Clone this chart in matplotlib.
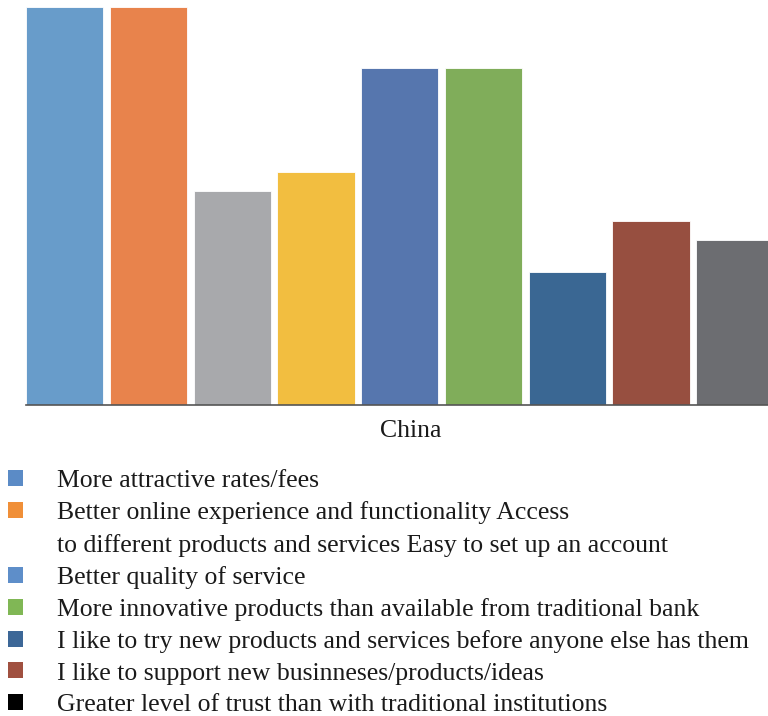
import matplotlib
matplotlib.use("Agg")
import matplotlib.pyplot as plt
from matplotlib.patches import Patch

# survey responses, one bar per reason
values = [40.0, 40.0, 21.5, 23.4, 33.9, 33.9, 13.4, 18.5, 16.6]
bar_colors = ["#689cca", "#e8834c", "#a8a9ac", "#f2be40", "#5676ae",
              "#80ad5a", "#3a6793", "#974f40", "#6c6d71"]
category = "China"

legend_labels = [
    "More attractive rates/fees",
    "Better online experience and functionality Access",
    "to different products and services Easy to set up an account",
    "Better quality of service",
    "More innovative products than available from traditional bank",
    "I like to try new products and services before anyone else has them",
    "I like to support new businneses/products/ideas",
    "Greater level of trust than with traditional institutions",
]
legend_colors = ["#5b8bc6", "#f08f38", "none", "#5e8ec9", "#80b755",
                 "#3c6797", "#a05040", "#000000"]

plt.rcParams["font.family"] = ["Liberation Serif", "DejaVu Serif"]

fig = plt.figure(figsize=(7.68, 7.16), dpi=100)
W, H = 768, 716
pitch = 83.75
ax = fig.add_axes([26 / W, (H - 405) / H, 9 * pitch / W, 405 / H])

x = list(range(len(values)))
ax.bar(x, values, width=0.925, color=bar_colors, edgecolor="white", linewidth=0.6)
ax.set_xlim(-0.4625, len(values) - 1 + 0.5375)
ax.set_ylim(0, max(values) * 405 / 398)

for s in ["top", "right", "left"]:
    ax.spines[s].set_visible(False)
ax.spines["bottom"].set_color("#555555")
ax.spines["bottom"].set_linewidth(1.2)
ax.set_yticks([])
ax.set_xticks([4.13])
ax.set_xticklabels([category], fontsize=18.5, color="#1a1a1a")
ax.tick_params(axis="x", length=0, pad=11)

handles = [Patch(facecolor=c, edgecolor="none") for c in legend_colors]
fig.legend(handles, legend_labels, loc="upper left",
           bbox_to_anchor=(8 / W, 1 - 470 / H), frameon=False,
           fontsize=18.5, handlelength=0.58, handleheight=0.58,
           handletextpad=1.32, labelspacing=0.36, borderpad=0,
           borderaxespad=0, labelcolor="#1a1a1a")

fig.savefig("out.png", dpi=100)
